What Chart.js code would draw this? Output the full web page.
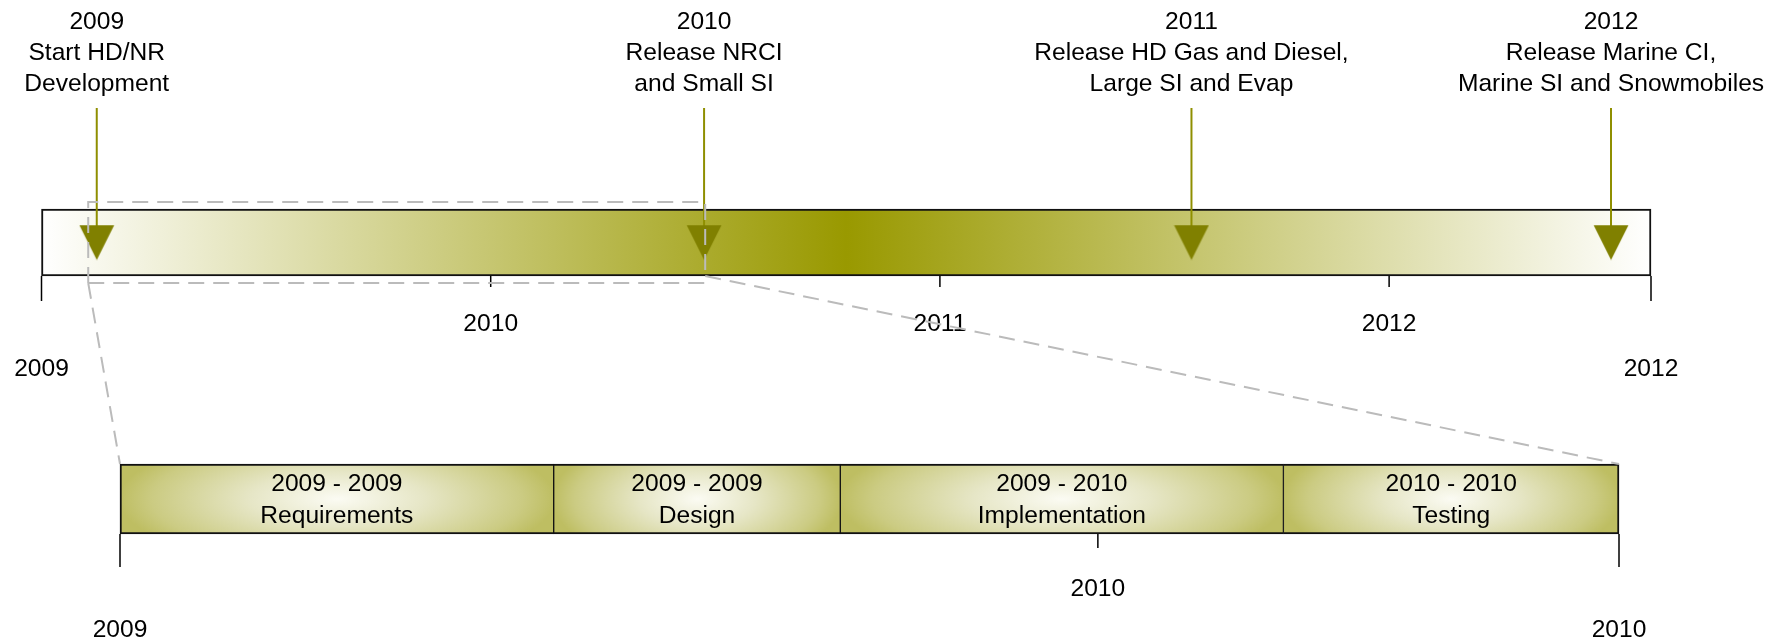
<!DOCTYPE html>
<html>
<head>
<meta charset="utf-8">
<script src="https://cdn.jsdelivr.net/npm/chart.js@4.4.1/dist/chart.umd.min.js"></script>
<style>
html,body{margin:0;padding:0;background:#fff;overflow:hidden}
#wrap{position:relative;width:1769px;height:641px;background:#fff}
#wrap canvas{position:absolute;left:0;top:0;width:1769px;height:641px}
</style>
</head>
<body>
<div id="wrap">
<canvas id="mainChart" width="1769" height="641"></canvas>
<canvas id="zoomChart" width="1769" height="641"></canvas>
</div>
<script>
// ---------------- data (fractional years) ----------------
const timelineRange = [2009.0, 2012.583];
const timelineTicks = [2010, 2011, 2012];
const eventDates = [2009.123, 2010.475, 2011.560, 2012.494];
const eventTexts = [
  ['Start HD/NR', 'Development'],
  ['Release NRCI', 'and Small SI'],
  ['Release HD Gas and Diesel,', 'Large SI and Evap'],
  ['Release Marine CI,', 'Marine SI and Snowmobiles']
];
const zoomRange = [2009.104, 2010.4775];
const phaseNames = ['Requirements', 'Design', 'Implementation', 'Testing'];
const phaseStarts = [2009.104, 2009.5014, 2009.764, 2010.170];
const phaseEnds = [2009.5014, 2009.764, 2010.170, 2010.4775];
const phaseTicks = [2010];

// ---------------- styles / layout ----------------
const FONT = '"Liberation Sans", Arial, Helvetica, sans-serif';
const FS = 24.6;
const CAP_SHIFT = 0.358 * FS; // baseline offset so caps/digits are centred on the given y
const OLIVE = '#999900';
const MARKER = '#808000';
const ARROW = '#8f8f00';
const DASH = '#bbbbbb';

const tri = document.createElement('canvas');
tri.width = 36; tri.height = 36;
(function () {
  const t = tri.getContext('2d');
  t.fillStyle = MARKER;
  t.beginPath(); t.moveTo(0.5, 0.5); t.lineTo(35.5, 0.5); t.lineTo(18, 35.5); t.closePath(); t.fill();
})();

function mainFill(c) {
  const chart = c.chart;
  if (!chart.chartArea) return OLIVE;
  const xs = chart.scales.x;
  const x0 = xs.getPixelForValue(timelineRange[0]), x1 = xs.getPixelForValue(timelineRange[1]);
  const g = chart.ctx.createLinearGradient(x0, 0, x1, 0);
  g.addColorStop(0, '#ffffff');
  g.addColorStop(0.5, OLIVE);
  g.addColorStop(1, '#ffffff');
  return g;
}

function phaseFill(c) {
  const chart = c.chart, area = chart.chartArea;
  if (!area || c.type !== 'data') return '#cccc80';
  const xs = chart.scales.x;
  const x0 = xs.getPixelForValue(phaseStarts[c.dataIndex]);
  const x1 = xs.getPixelForValue(phaseEnds[c.dataIndex]);
  const w = Math.max(2, Math.ceil(x1 - x0) + 2), h = Math.max(2, Math.ceil(area.bottom - area.top) + 2);
  const off = document.createElement('canvas');
  off.width = w; off.height = h;
  const g = off.getContext('2d');
  g.translate(w / 2, h / 2);
  g.scale(w / 2, h * 0.95);
  const rg = g.createRadialGradient(0, 0, 0, 0, 0, 1);
  rg.addColorStop(0, '#fbfbf3');
  rg.addColorStop(0.4, '#e6e6c6');
  rg.addColorStop(0.85, '#cbcb82');
  rg.addColorStop(1, '#bebe62');
  g.fillStyle = rg;
  g.fillRect(-3, -3, 6, 6);
  const p = chart.ctx.createPattern(off, 'no-repeat');
  p.setTransform(new DOMMatrix([1, 0, 0, 1, x0 - 1, area.top - 1]));
  return p;
}

function line(ctx, x0, y0, x1, y1) {
  ctx.beginPath(); ctx.moveTo(x0, y0); ctx.lineTo(x1, y1); ctx.stroke();
}
function text(ctx, s, x, cy) {
  ctx.fillText(s, x, cy + CAP_SHIFT);
}
function textStyle(ctx) {
  ctx.fillStyle = '#000';
  ctx.font = FS + 'px ' + FONT;
  ctx.textAlign = 'center';
  ctx.textBaseline = 'alphabetic';
}

const axisPlugin = {
  id: 'tlAxis',
  afterDraw(chart, args, o) {
    const ctx = chart.ctx, xs = chart.scales.x, base = chart.chartArea.bottom;
    ctx.save();
    ctx.strokeStyle = '#000'; ctx.lineWidth = 1.5;
    textStyle(ctx);
    o.ticks.forEach(v => {
      const x = xs.getPixelForValue(v);
      line(ctx, x, base, x, base + o.tickLen);
      text(ctx, String(v), x, base + o.labelGap);
    });
    [xs.min, xs.max].forEach(v => {
      const x = xs.getPixelForValue(v);
      line(ctx, x, base, x, base + o.endTickLen);
      text(ctx, String(Math.floor(v)), x, base + o.endLabelGap);
    });
    ctx.restore();
  }
};

const eventPlugin = {
  id: 'events',
  afterDatasetDraw(chart, args, o) {
    if (args.index !== 0) return;
    const ctx = chart.ctx, xs = chart.scales.x;
    const cy = (chart.chartArea.top + chart.chartArea.bottom) / 2;
    ctx.save();
    ctx.strokeStyle = ARROW; ctx.lineWidth = 2;
    eventDates.forEach(d => {
      const x = xs.getPixelForValue(d);
      line(ctx, x, o.arrowTop, x, cy);
    });
    textStyle(ctx);
    eventDates.forEach((d, i) => {
      const x = xs.getPixelForValue(d);
      const lines = [String(Math.floor(d))].concat(eventTexts[i]);
      lines.forEach((s, k) => text(ctx, s, x, o.textTop + k * o.lineH));
    });
    ctx.restore();
  }
};

const phaseTextPlugin = {
  id: 'phaseText',
  afterDatasetsDraw(chart) {
    const ctx = chart.ctx, xs = chart.scales.x;
    const cy = (chart.chartArea.top + chart.chartArea.bottom) / 2;
    ctx.save();
    textStyle(ctx);
    phaseNames.forEach((n, i) => {
      const x = (xs.getPixelForValue(phaseStarts[i]) + xs.getPixelForValue(phaseEnds[i])) / 2;
      text(ctx, Math.floor(phaseStarts[i]) + ' - ' + Math.floor(phaseEnds[i]), x, cy - 17);
      text(ctx, n, x, cy + 15);
    });
    ctx.restore();
  }
};

Chart.defaults.font.family = FONT;
Chart.defaults.font.size = FS;

const mainChart = new Chart(document.getElementById('mainChart'), {
  type: 'bar',
  data: {
    labels: ['timeline'],
    datasets: [
      {
        type: 'bar',
        indexAxis: 'y',
        order: 1,
        data: [{ x: timelineRange, y: 'timeline' }],
        backgroundColor: mainFill,
        borderColor: '#111',
        borderWidth: 2,
        borderSkipped: false,
        barPercentage: 1,
        categoryPercentage: 1,
        clip: false
      },
      {
        type: 'scatter',
        order: 0,
        data: eventDates.map(d => ({ x: d, y: 'timeline' })),
        pointStyle: tri,
        radius: 18,
        clip: false
      }
    ]
  },
  options: {
    indexAxis: 'y',
    responsive: false,
    animation: false,
    devicePixelRatio: 1,
    events: [],
    layout: { padding: { left: 41.5, right: 118, top: 209, bottom: 365 } },
    scales: {
      x: { type: 'linear', min: timelineRange[0], max: timelineRange[1], display: false },
      y: { type: 'category', labels: ['timeline'], offset: true, display: false }
    },
    plugins: {
      legend: { display: false },
      tooltip: { enabled: false },
      tlAxis: { ticks: timelineTicks, tickLen: 11, endTickLen: 25, labelGap: 46.5, endLabelGap: 91 },
      events: { arrowTop: 108, textTop: 20.5, lineH: 31 }
    }
  },
  plugins: [axisPlugin, eventPlugin]
});

const zoomPlugin = {
  id: 'zoomLink',
  afterDraw(chart) {
    const ctx = chart.ctx;
    const top = mainChart.chartArea, xs = mainChart.scales.x;
    const bot = chart.chartArea;
    const xl = xs.getPixelForValue(zoomRange[0]), xr = xs.getPixelForValue(zoomRange[1]);
    const ry0 = top.top - 7, ry1 = top.bottom + 7;
    ctx.save();
    ctx.strokeStyle = DASH; ctx.lineWidth = 2; ctx.setLineDash([16, 9]);
    ctx.beginPath();
    ctx.moveTo(xl, ry1); ctx.lineTo(xl, ry0); ctx.lineTo(xr, ry0); ctx.lineTo(xr, top.bottom);
    ctx.stroke();
    line(ctx, xl, ry1, xr, ry1);
    line(ctx, xl, ry1, bot.left, bot.top);
    line(ctx, xr, top.bottom, bot.right, bot.top);
    ctx.restore();
  }
};

const zoomChart = new Chart(document.getElementById('zoomChart'), {
  type: 'bar',
  data: {
    labels: ['phases'],
    datasets: [
      {
        indexAxis: 'y',
        data: phaseNames.map((n, i) => ({ x: [phaseStarts[i], phaseEnds[i]], y: 'phases' })),
        backgroundColor: phaseFill,
        borderColor: '#111',
        borderWidth: c => ({ top: 2, bottom: 2, left: c.dataIndex === 0 ? 2 : 1, right: c.dataIndex === phaseNames.length - 1 ? 2 : 1 }),
        borderSkipped: false,
        barPercentage: 1,
        categoryPercentage: 1,
        grouped: false,
        clip: false
      }
    ]
  },
  options: {
    indexAxis: 'y',
    responsive: false,
    animation: false,
    devicePixelRatio: 1,
    events: [],
    layout: { padding: { left: 120, right: 150, top: 464, bottom: 107 } },
    scales: {
      x: { type: 'linear', min: zoomRange[0], max: zoomRange[1], display: false },
      y: { type: 'category', labels: ['phases'], offset: true, display: false }
    },
    plugins: {
      legend: { display: false },
      tooltip: { enabled: false },
      tlAxis: { ticks: phaseTicks, tickLen: 14, endTickLen: 33, labelGap: 53, endLabelGap: 94 }
    }
  },
  plugins: [axisPlugin, phaseTextPlugin, zoomPlugin]
});
</script>
</body>
</html>
